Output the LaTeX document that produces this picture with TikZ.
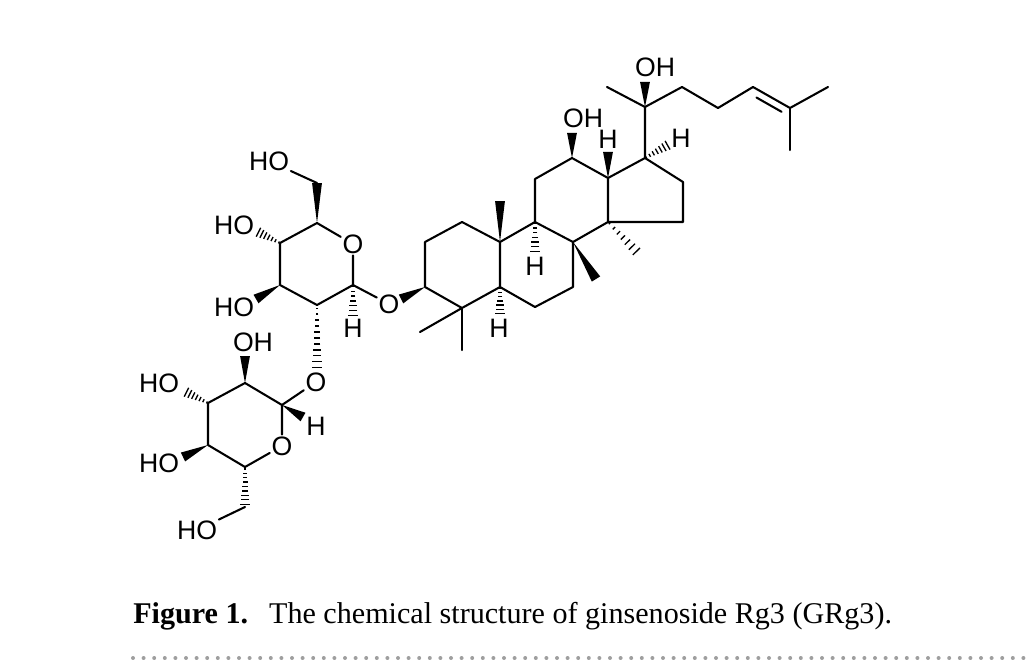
\documentclass[tikz,border=0pt]{standalone}
\usepackage{fontspec}
\setmainfont{Liberation Serif}
\newfontfamily\chemfont{Liberation Sans}
\usetikzlibrary{calc}
\newcommand{\wedgeb}[2]{\fill ($(#2)!3.7pt!90:(#1)$) -- (#1) -- ($(#2)!3.7pt!-90:(#1)$) -- cycle;}
\newcommand{\hashb}[3][6]{\foreach \i in {0,...,#1}{\pgfmathsetmacro\t{0.05+0.93*\i/#1}\pgfmathsetlengthmacro\hw{0.6pt+\t*3.2pt}\path ($(#2)!\t!(#3)$) coordinate (hp); \draw[line width=1pt] ($(hp)!\hw!90:(#3)$) -- ($(hp)!\hw!-90:(#3)$);}}
\begin{document}
\begin{tikzpicture}[x=0.75pt,y=-0.75pt,
 bond/.style={line width=1.55pt, line cap=round, line join=round},
 atom/.style={font=\chemfont\fontsize{20}{20}\selectfont, inner sep=1.2pt},
]
\useasboundingbox (0,0) rectangle (1029,660);
% ---------- glucose 1 ----------
\coordinate (g1) at (353,285);
\coordinate (g2) at (317,305);
\coordinate (g3) at (280,285);
\coordinate (g4) at (280,243);
\coordinate (g5) at (317,223);
\coordinate (g6) at (317,183);
\node[atom] (gO5) at (353,244) {O};
\node[atom] (gHO6) at (269,161) {HO};
\node[atom] (gHO4) at (234,225) {HO};
\node[atom] (gHO3) at (234,307) {HO};
\node[atom] (gH1) at (353,328) {H};
\node[atom] (O1) at (389,304) {O};
\node[atom] (O2) at (316,382) {O};
\coordinate (g4e) at (258,232);
\coordinate (g3e) at (256,299);
\coordinate (g1e) at (353,316);
\coordinate (g2e) at (317,369);
\draw[bond] (g1) -- (g2) -- (g3) -- (g4) -- (g5);
\draw[bond] (g5) -- (gO5) -- (g1);
\draw[bond] (g6) -- (gHO6);
\draw[bond] (g1) -- (O1);
\wedgeb{g5}{g6}
\hashb{g4}{g4e}
\wedgeb{g3}{g3e}
\hashb{g1}{g1e}
\hashb[10]{g2}{g2e}
% ---------- glucose 2 ----------
\coordinate (h1) at (282,405);
\coordinate (h2) at (245,383);
\coordinate (h3) at (208,403);
\coordinate (h4) at (208,445);
\coordinate (h5) at (245,467);
\coordinate (h6) at (245,507);
\node[atom] (hO5) at (282,446) {O};
\node[atom] (hHO6) at (197,530) {HO};
\node[atom] (hOH2) at (253,342) {OH};
\node[atom] (hHO3) at (159,383) {HO};
\node[atom] (hHO4) at (159,463) {HO};
\node[atom] (hH1) at (316,426) {H};
\coordinate (h2e) at (245,356);
\coordinate (h3e) at (186,392);
\coordinate (h4e) at (183,457);
\coordinate (h5e) at (245,505);
\coordinate (h1e) at (303,417);
\draw[bond] (h1) -- (h2) -- (h3) -- (h4) -- (h5);
\draw[bond] (h5) -- (hO5) -- (h1);
\draw[bond] (h1) -- (O2);
\draw[bond] (h6) -- (hHO6);
\wedgeb{h2}{h2e}
\hashb{h3}{h3e}
\wedgeb{h4}{h4e}
\hashb[8]{h5}{h5e}
\wedgeb{h1}{h1e}
% ---------- aglycone ----------
\coordinate (a1) at (462,222);
\coordinate (a2) at (425,242);
\coordinate (a3) at (425,287);
\coordinate (a4) at (462,308);
\coordinate (a5) at (500,287);
\coordinate (a10) at (500,242);
\coordinate (a6) at (535,307);
\coordinate (a7) at (573,287);
\coordinate (a8) at (573,242);
\coordinate (a9) at (535,222);
\coordinate (a11) at (535,179);
\coordinate (a12) at (572,158);
\coordinate (a13) at (608,178);
\coordinate (a14) at (608,222);
\coordinate (a15) at (683,222);
\coordinate (a16) at (683,182);
\coordinate (a17) at (645,158);
\coordinate (a20) at (645,107);
\coordinate (a21) at (607,87);
\coordinate (a22) at (682,87);
\coordinate (a23) at (718,108);
\coordinate (a24) at (753,87);
\coordinate (a25) at (790,108);
\coordinate (a26) at (828,87);
\coordinate (a27) at (790,150);
\coordinate (m4a) at (420,332);
\coordinate (m4b) at (462,350);
\coordinate (m10) at (500,201);
\coordinate (m8) at (596,279);
\coordinate (m14) at (637,252);
\coordinate (O1e) at (401,299);
\coordinate (a12e) at (572,133);
\coordinate (a13e) at (608,152);
\coordinate (a17e) at (668,145);
\coordinate (a20e) at (645,82);
\coordinate (a5e) at (500,314);
\coordinate (a9e) at (535,252);
\coordinate (db1) at ($(a24)!0.12!(a25)+(-1,8)$);
\coordinate (db2) at ($(a24)!0.8!(a25)+(-1,8)$);
\node[atom] (aH5) at (499,328) {H};
\node[atom] (aH9) at (535,266) {H};
\node[atom] (aOH12) at (583,118) {OH};
\node[atom] (aH13) at (608,139) {H};
\node[atom] (aH17) at (681,138) {H};
\node[atom] (aOH20) at (655,67) {OH};
\draw[bond] (a1) -- (a2) -- (a3) -- (a4) -- (a5) -- (a10) -- cycle;
\draw[bond] (a5) -- (a6) -- (a7) -- (a8) -- (a9) -- (a10);
\draw[bond] (a9) -- (a11) -- (a12) -- (a13) -- (a14) -- (a8);
\draw[bond] (a13) -- (a17) -- (a16) -- (a15) -- (a14);
\draw[bond] (a17) -- (a20) -- (a21);
\draw[bond] (a20) -- (a22) -- (a23) -- (a24) -- (a25) -- (a26);
\draw[bond] (a25) -- (a27);
\draw[bond] (db1) -- (db2);
\draw[bond] (a4) -- (m4a);
\draw[bond] (a4) -- (m4b);
\wedgeb{a10}{m10}
\wedgeb{a8}{m8}
\hashb{a14}{m14}
\wedgeb{a3}{O1e}
\wedgeb{a12}{a12e}
\wedgeb{a13}{a13e}
\hashb{a17}{a17e}
\wedgeb{a20}{a20e}
\hashb{a5}{a5e}
\hashb{a9}{a9e}
% ---------- caption ----------
\node[anchor=base west, inner sep=0pt] (caption) at (133,623) {\resizebox{569pt}{!}{\textbf{Figure 1.}\hspace{0.7em}The chemical structure of ginsenoside Rg3 (GRg3).}};
\foreach \i in {0,...,84} \fill[gray!75] (133+\i*10.6,658) circle (1.5pt);
\end{tikzpicture}
\end{document}
